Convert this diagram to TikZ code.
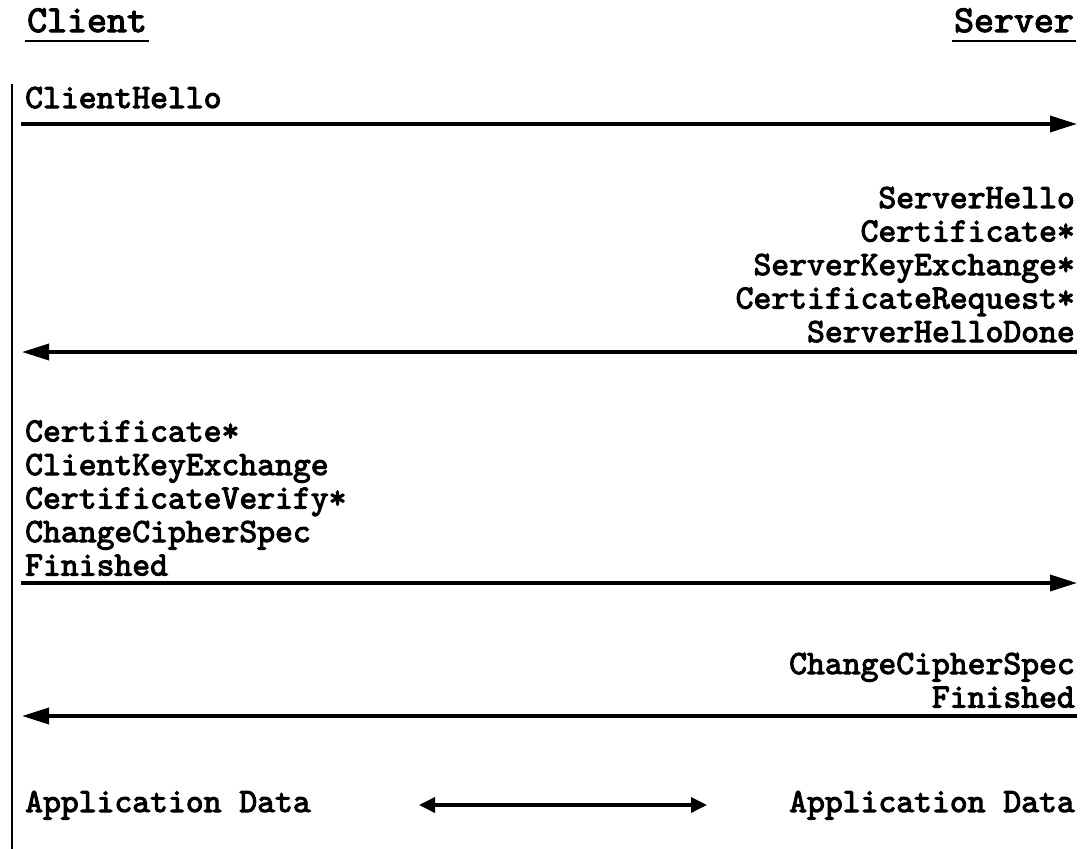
\documentclass[tikz,border=0pt]{standalone}
\usepackage{fontspec}
\usetikzlibrary{arrows.meta}
% heavy typewriter face for all labels
\newfontfamily\monobold[FakeBold=3]{lmmono10-regular.otf}
\newcommand\msgfont{\monobold\fontsize{34}{34}\selectfont}
\newcommand\headfont{\monobold\fontsize{38}{38}\selectfont}
\tikzset{
  head/.style={font=\headfont, inner sep=0pt},
  msgl/.style={font=\msgfont, inner sep=0pt, anchor=base west},
  msgr/.style={font=\msgfont, inner sep=0pt, anchor=base east},
  msg/.style={line width=3.5pt, -{Triangle[length=27pt,width=16pt]}},
  both/.style={line width=3.5pt, {Triangle[length=16pt,width=15pt]}-{Triangle[length=16pt,width=15pt]}},
  lifeline/.style={line width=2pt},
  uline/.style={line width=1.4pt}
}
\begin{document}
\begin{tikzpicture}[x=1pt,y=-1pt]
  \useasboundingbox (0,0) rectangle (1088,849);

  % column headings
  \node[head, anchor=base west] (client) at (27,32) {Client};
  \node[head, anchor=base east] (server) at (1074,32) {Server};
  \draw[uline] ([yshift=-9pt,xshift=-2pt]client.base west) -- ([yshift=-9pt,xshift=2pt]client.base east);
  \draw[uline] ([yshift=-9pt,xshift=-2pt]server.base west) -- ([yshift=-9pt,xshift=2pt]server.base east);

  % client side line
  \coordinate (lifetop) at (12,84);
  \coordinate (lifebot) at (12,849);
  \draw[lifeline] (lifetop) -- (lifebot);

  % ClientHello
  \node[msgl] (chello) at (25,108) {ClientHello};
  \coordinate (a1l) at (21,124);
  \coordinate (a1r) at (1077,124);
  \draw[msg] (a1l) -- (a1r);

  % server flight
  \node[msgr] (shello) at (1075,208) {ServerHello};
  \node[msgr] (scert)  at (1075,241.5) {Certificate*};
  \node[msgr] (skx)    at (1075,275) {ServerKeyExchange*};
  \node[msgr] (sreq)   at (1075,308.5) {CertificateRequest*};
  \node[msgr] (sdone)  at (1075,342) {ServerHelloDone};
  \coordinate (a2r) at (1077,352);
  \coordinate (a2l) at (22,352);
  \draw[msg] (a2r) -- (a2l);

  % client flight
  \node[msgl] (ccert) at (25,441.5) {Certificate*};
  \node[msgl] (ckx)   at (25,475) {ClientKeyExchange};
  \node[msgl] (cver)  at (25,508.5) {CertificateVerify*};
  \node[msgl] (cccs)  at (25,542) {ChangeCipherSpec};
  \node[msgl] (cfin)  at (25,575.5) {Finished};
  \coordinate (a3l) at (21,583);
  \coordinate (a3r) at (1077,583);
  \draw[msg] (a3l) -- (a3r);

  % server finish
  \node[msgr] (sccs) at (1075,674) {ChangeCipherSpec};
  \node[msgr] (sfin) at (1075,707.5) {Finished};
  \coordinate (a4r) at (1077,716);
  \coordinate (a4l) at (22,716);
  \draw[msg] (a4r) -- (a4l);

  % application data
  \node[msgl] (cdata) at (25,812) {Application Data};
  \node[msgr] (sdata) at (1075,812) {Application Data};
  \coordinate (a5l) at (419,805);
  \coordinate (a5r) at (707,805);
  \draw[both] (a5l) -- (a5r);
\end{tikzpicture}
\end{document}
